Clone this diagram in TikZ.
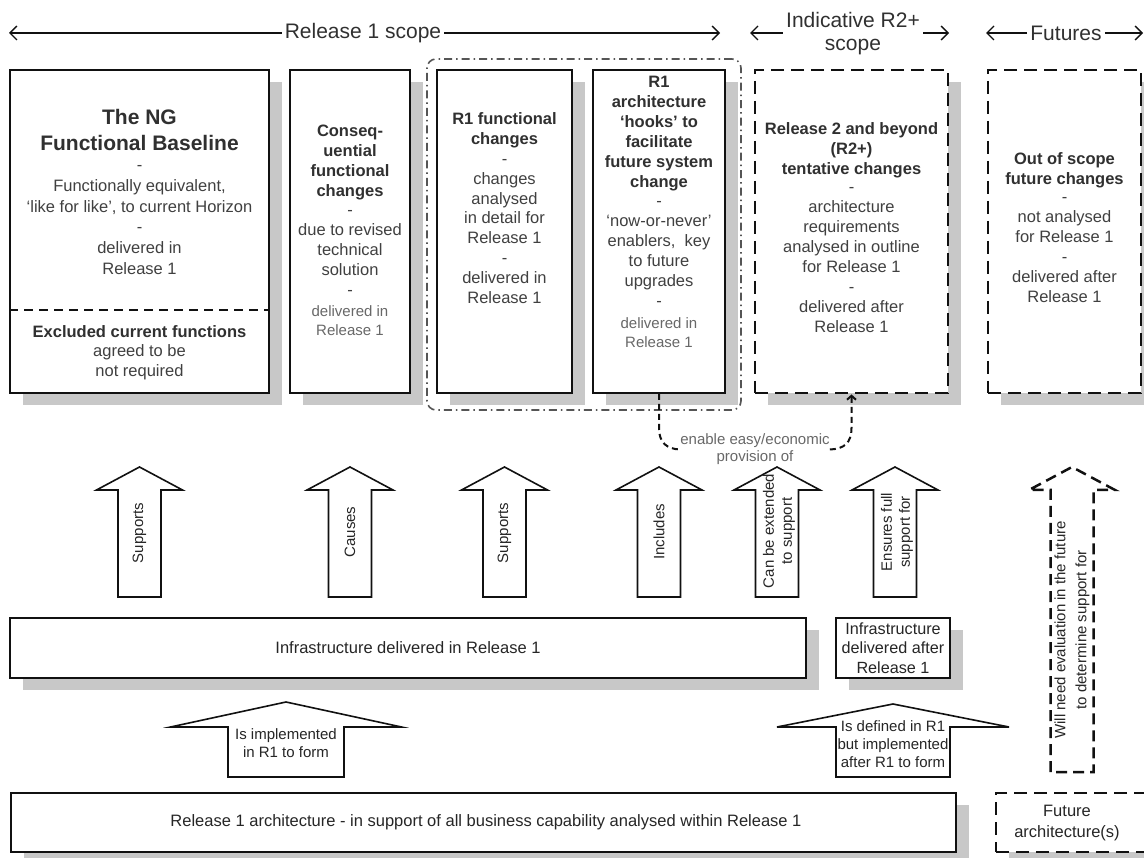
\documentclass[tikz,border=0pt]{standalone}
\usepackage{fontspec}
\setmainfont{Liberation Sans}
\usetikzlibrary{arrows.meta,shadows}

\definecolor{bodytxt}{HTML}{404040}
\definecolor{headtxt}{HTML}{303030}
\definecolor{softtxt}{HTML}{686868}
\definecolor{shade}{HTML}{C8C8C8}
\definecolor{frame}{HTML}{111111}
\definecolor{groupgray}{HTML}{555555}

% upward block arrow: [options]{centre x}{tip y}{head base y}{bottom y}{shaft half width}{head half width}
\newcommand\blockup[7][]{%
  \draw[blockarrow,#1] ({#2-#6},#5) -- ({#2-#6},#4) -- ({#2-#7},#4) -- (#2,#3)
    -- ({#2+#7},#4) -- ({#2+#6},#4) -- ({#2+#6},#5) -- cycle;}

\tikzset{
  solidbox/.style={draw=frame, line width=2pt, fill=white, inner sep=0pt,
    drop shadow={shadow xshift=13pt, shadow yshift=-12pt, fill=shade, opacity=1}},
  dashbox/.style={solidbox, line width=2.8pt, dash pattern=on 13pt off 7pt},
  groupframe/.style={draw=groupgray, line width=1.6pt, rounded corners=9pt, inner sep=0pt,
    dash pattern=on 8pt off 4pt on 1.5pt off 4pt},
  ttl/.style={font=\bfseries\fontsize{16.5}{20}\selectfont, text=headtxt, align=center, inner sep=0pt},
  bigttl/.style={font=\bfseries\fontsize{21}{26}\selectfont, text=headtxt, align=center, inner sep=0pt},
  bod/.style={font=\fontsize{16.5}{20}\selectfont, text=bodytxt, align=center, inner sep=0pt},
  sml/.style={font=\fontsize{15}{18.5}\selectfont, text=softtxt, align=center, inner sep=0pt},
  hdr/.style={font=\fontsize{21}{23}\selectfont, text=headtxt, align=center, inner sep=3pt},
  scopearrow/.style={draw=frame, line width=1.4pt, -{Straight Barb[length=7pt,width=14pt]}},
  blockarrow/.style={draw=frame, line width=1.6pt, fill=white, line join=miter},
  arrlbl/.style={font=\fontsize{15}{18}\selectfont, text=black!85, align=center, inner sep=0pt},
  enablelink/.style={draw=frame, line width=2pt, dash pattern=on 6pt off 4pt,
    -{Straight Barb[length=4pt,width=9pt]}},
}

\begin{document}
\begin{tikzpicture}[x=1pt,y=-1pt]
\useasboundingbox (0,0) rectangle (1144,858);

% ---------- scope headings ----------
\node[hdr] (r1scope) at (363,33) {Release 1 scope};
\coordinate (r1L) at (9,33);
\coordinate (r1R) at (720,33);
\draw[scopearrow] (r1scope.west) -- (r1L);
\draw[scopearrow] (r1scope.east) -- (r1R);

\node[hdr] (r2scope) at (853,33.5) {Indicative R2+\\scope};
\coordinate (r2L) at (750,33);
\coordinate (r2R) at (949,33);
\draw[scopearrow] (r2scope.west |- r2L) -- (r2L);
\draw[scopearrow] (r2scope.east |- r2R) -- (r2R);

\node[hdr] (futscope) at (1066,33) {Futures};
\coordinate (futL) at (986,33);
\coordinate (futR) at (1143,33);
\draw[scopearrow] (futscope.west) -- (futL);
\draw[scopearrow] (futscope.east) -- (futR);

% ---------- top row of scope boxes ----------
\node[solidbox, minimum width=259pt, minimum height=323pt] (ng) at (139.5,231.5) {};
\node[solidbox, minimum width=120pt, minimum height=323pt] (conseq) at (350,231.5) {};
\node[solidbox, minimum width=135pt, minimum height=323pt] (r1func) at (504.5,231.5) {};
\node[solidbox, minimum width=132pt, minimum height=323pt] (hooks) at (659,231.5) {};
\node[dashbox, minimum width=193pt, minimum height=323pt] (r2box) at (851.5,231.5) {};
\node[dashbox, minimum width=153pt, minimum height=323pt] (outscope) at (1064.5,231.5) {};
\node[groupframe, minimum width=314pt, minimum height=351pt] (r1group) at (584,234.5) {};

% baseline box: split between kept and excluded functions
\coordinate (split) at (0,310);
\draw[frame, line width=2pt, dash pattern=on 9pt off 6pt] (ng.west |- split) -- (ng.east |- split);

\node[bigttl] (ngT) at (139.5,130) {The NG\\Functional Baseline};
\node[bod, font=\fontsize{16.5}{20.8}\selectfont] (ngB) at (139.5,220)
  {-\\Functionally equivalent,\\‘like for like’, to current Horizon\\-\\delivered in\\Release 1};
\node[ttl] (exT) at (139.5,332) {Excluded current functions};
\node[bod] (exB) at (139.5,362) {agreed to be\\not required};

\node[ttl] (conseqT) at (350,162) {Conseq-\\uential\\functional\\changes};
\node[bod] (conseqB) at (350,253) {-\\due to revised\\technical\\solution\\-};
\node[sml] (conseqS) at (350,320.5) {delivered in\\Release 1};

\node[ttl] (r1funcT) at (504.5,130) {R1 functional\\changes};
\node[bod, font=\fontsize{16.5}{19.9}\selectfont] (r1funcB) at (504.5,231.5)
  {-\\changes\\analysed\\in detail for\\Release 1\\-\\delivered in\\Release 1};

\node[ttl] (hooksT) at (659,134) {R1\\architecture\\‘hooks’ to\\facilitate\\future system\\change};
\node[bod] (hooksB) at (659,254) {-\\‘now-or-never’\\enablers,\ \ key\\to future\\upgrades\\-};
\node[sml] (hooksS) at (659,332.5) {delivered in\\Release 1};

\node[ttl] (r2T) at (851.5,150.5) {Release 2 and beyond\\(R2+)\\tentative changes};
\node[bod] (r2B) at (851.5,260)
  {-\\architecture\\requirements\\analysed in outline\\for Release 1\\-\\delivered after\\Release 1};

\node[ttl] (outT) at (1064.5,170) {Out of scope\\future changes};
\node[bod] (outB) at (1064.5,250)
  {-\\not analysed\\for Release 1\\-\\delivered after\\Release 1};

% hooks make later changes cheap to provide
\node[sml, font=\fontsize{15}{17}\selectfont] (enable) at (755,449.5) {enable easy/economic\\provision of};
\draw[enablelink, -] (hooks.south) -- (659,428) .. controls (659,443) and (667,449) .. (enable.west);
\draw[enablelink] (enable.east) .. controls (844,449) and (851.5,443) .. (851.5,428) -- (r2box.south);

% ---------- infrastructure and architecture bars ----------
\node[solidbox, minimum width=796pt, minimum height=60pt,
  font=\fontsize{16.5}{20}\selectfont, text=black!85] (infra) at (408,648)
  {Infrastructure delivered in Release 1};
\node[solidbox, minimum width=114pt, minimum height=60pt, align=center,
  font=\fontsize{16.2}{19.5}\selectfont, text=black!85] (infraLater) at (893,648)
  {Infrastructure\\delivered after\\Release 1};

\node[solidbox, minimum width=945pt, minimum height=59pt] (arch) at (483.5,822.5) {};
\node[bod, text=black!85] (archT) at (486,822)
  {Release 1 architecture - in support of all business capability analysed within Release 1};
\node[dashbox, minimum width=156pt, minimum height=59pt] (futarch) at (1074,822.5) {};
\node[bod, text=black!85, font=\fontsize{16.5}{21}\selectfont] (futarchT) at (1067,823.5)
  {Future\\architecture(s)};

% ---------- upward block arrows ----------
\blockup{139.5}{467}{490}{597}{21.5}{43}
\blockup{350}{467}{490}{597}{21.5}{43}
\blockup{504.5}{467}{490}{597}{21.5}{43}
\blockup{659}{467}{490}{597}{21.5}{43}
\blockup{777}{467}{490}{597}{21.5}{43}
\blockup{895}{467}{490}{597}{21.5}{43}
\blockup[line width=2.5pt, dash pattern=on 11pt off 6pt]{1072}{467}{490}{772}{21.5}{43}
\blockup{286}{702}{727}{777}{58}{115.5}
\blockup{893}{704}{727}{777}{57}{116}

\node[arrlbl, rotate=90] (lblA) at (139.5,533) {Supports};
\node[arrlbl, rotate=90] (lblB) at (350,532) {Causes};
\node[arrlbl, rotate=90] (lblC) at (504.5,533) {Supports};
\node[arrlbl, rotate=90] (lblD) at (659,532) {Includes};
\node[arrlbl, rotate=90] (lblE) at (779,531) {Can be extended\\to support};
\node[arrlbl, rotate=90] (lblF) at (897,532) {Ensures full\\support for};
\node[arrlbl, rotate=90, font=\fontsize{15}{21}\selectfont] (lblG) at (1072,630)
  {Will need evaluation in the future\\to determine support for};
\node[arrlbl] (lblH) at (286,743) {Is implemented\\in R1 to form};
\node[arrlbl, fill=white, inner sep=1pt] (lblI) at (893,744) {Is defined in R1\\but implemented\\after R1 to form};
\end{tikzpicture}
\end{document}
